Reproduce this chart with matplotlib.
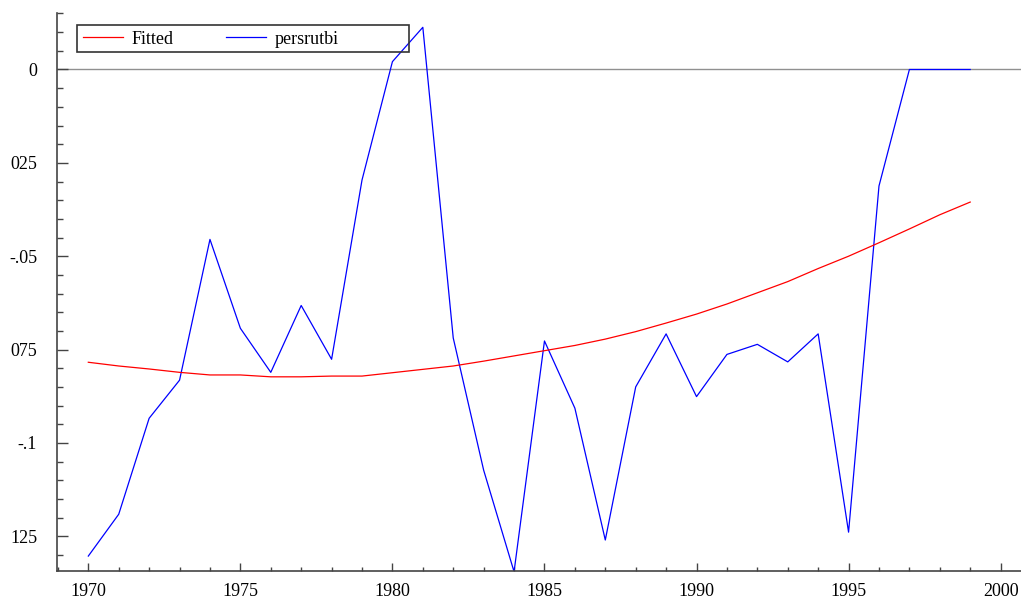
import numpy as np
import matplotlib.pyplot as plt
from matplotlib.ticker import MultipleLocator
from matplotlib.patches import Rectangle

plt.rcParams['font.family'] = ['Liberation Serif', 'DejaVu Serif']

years = list(range(1970, 2000))

# persrutbi series
persrutbi = [-0.1303, -0.1191, -0.0934, -0.0832, -0.0455, -0.0693, -0.0811, -0.0632,
             -0.0776, -0.0296, 0.0021, 0.0113, -0.0719, -0.1073, -0.1345, -0.0727,
             -0.0907, -0.1260, -0.0850, -0.0708, -0.0876, -0.0763, -0.0736, -0.0783,
             -0.0708, -0.1239, -0.0312, 0.0, 0.0, 0.0]

# fitted curve
fitted = [-0.0784, -0.0794, -0.0802, -0.0811, -0.0818, -0.0818, -0.0823, -0.0823,
          -0.0821, -0.0821, -0.0812, -0.0803, -0.0794, -0.0781, -0.0767, -0.0753,
          -0.0739, -0.0722, -0.0702, -0.0679, -0.0655, -0.0628, -0.0598, -0.0568,
          -0.0533, -0.0500, -0.0464, -0.0427, -0.0389, -0.0355]

# tick labels as they appear (left part of the long ones is cut off)
ytick_vals = [0, -0.025, -0.05, -0.075, -0.1, -0.125]
ytick_labels = ['0', '025', '-.05', '075', '-.1', '125']
xtick_vals = [1970, 1975, 1980, 1985, 1990, 1995, 2000]

fig = plt.figure(figsize=(10.21, 5.99), dpi=100)
ax = fig.add_axes([57.3 / 1021, 28 / 599, 1 - 57.3 / 1021, 558 / 599])

ax.axhline(0, color='#909090', lw=1.0, zorder=1)
ax.plot(years, fitted, color='#ff0000', lw=0.9, label='Fitted', zorder=3)
ax.plot(years, persrutbi, color='#0000ff', lw=0.9, label='persrutbi', zorder=2)

ax.set_xlim(1968.98, 2000.67)
ax.set_ylim(-0.1343, 0.01513)

ax.set_xticks(xtick_vals)
ax.xaxis.set_minor_locator(MultipleLocator(1))
ax.set_yticks(ytick_vals)
ax.set_yticklabels(ytick_labels)
ax.yaxis.set_minor_locator(MultipleLocator(0.005))

for s in ['top', 'right']:
    ax.spines[s].set_visible(False)
for s in ['left', 'bottom']:
    ax.spines[s].set_color('#444444')
    ax.spines[s].set_linewidth(1.2)

ax.tick_params(axis='y', which='major', direction='in', length=8, width=1, color='#444444',
               labelsize=13, pad=14.5)
ax.tick_params(axis='y', which='minor', direction='in', length=4, width=1, color='#444444')
ax.tick_params(axis='x', which='major', direction='in', length=6, width=1, color='#444444',
               labelsize=13, pad=9)
ax.tick_params(axis='x', which='minor', direction='in', length=3, width=1, color='#444444')

# legend without its own frame; a plain box is drawn around it
leg = ax.legend(loc='center left', bbox_to_anchor=(0.0264, 0.9529), ncol=2, fontsize=13,
                frameon=False, handlelength=2.25, handletextpad=0.45,
                columnspacing=2.9, borderpad=0, borderaxespad=0)
ax.add_patch(Rectangle((0.02075, 0.9296), 0.3445, 0.0489, transform=ax.transAxes,
                       fill=False, edgecolor='#333333', lw=1.2, zorder=4))

fig.savefig('out.png', dpi=100)
